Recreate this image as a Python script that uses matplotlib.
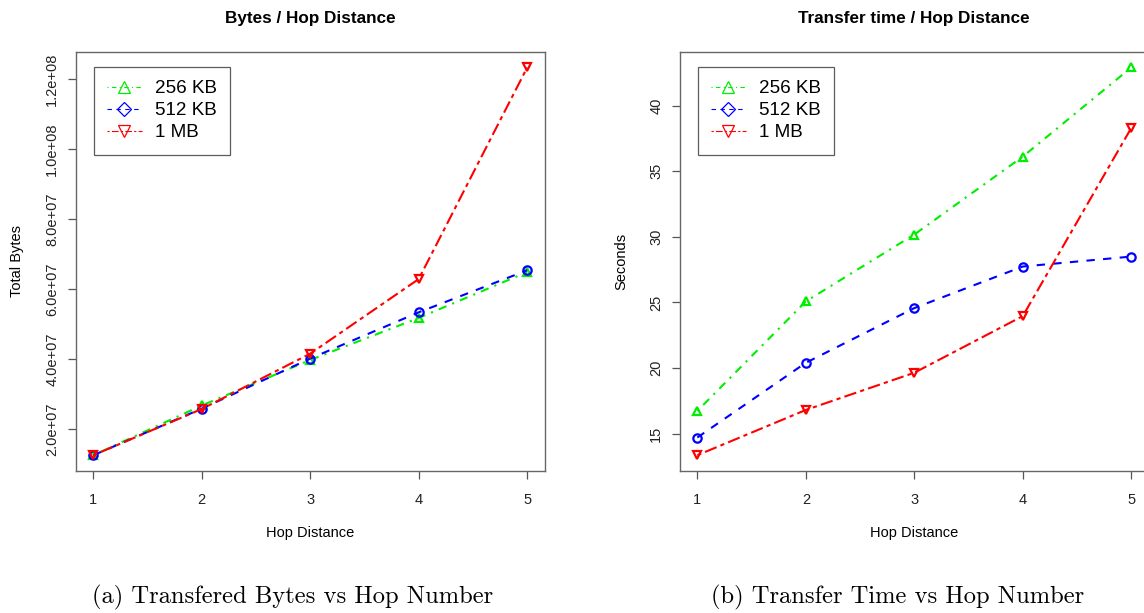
import matplotlib
matplotlib.use('Agg')
import matplotlib.pyplot as plt
from matplotlib.lines import Line2D
from matplotlib.ticker import FuncFormatter

hops = [1, 2, 3, 4, 5]
series = ['256 KB', '512 KB', '1 MB']

# total bytes per hop distance
bytes_256 = [1.26e7, 2.68e7, 3.98e7, 5.18e7, 6.49e7]
bytes_512 = [1.26e7, 2.59e7, 4.02e7, 5.34e7, 6.54e7]
bytes_1mb = [1.26e7, 2.58e7, 4.16e7, 6.29e7, 1.233e8]

# transfer time (seconds) per hop distance
secs_256 = [16.73, 25.08, 30.18, 36.12, 42.92]
secs_512 = [14.70, 20.40, 24.57, 27.74, 28.50]
secs_1mb = [13.35, 16.80, 19.64, 23.96, 38.30]

bytes_ticks = [2e7, 4e7, 6e7, 8e7, 1e8, 1.2e8]
secs_ticks = [15, 20, 25, 30, 35, 40]

colors = ['#00ee00', '#0000ff', '#ff0000']
styles = [(0, (1, 3, 4, 3)), (0, (4, 4)), (0, (2, 2, 6, 2))]
plot_markers = ['^', 'o', 'v']
legend_markers = ['^', 'D', 'v']

plt.rcParams['font.family'] = ['Liberation Sans', 'DejaVu Sans']

fig = plt.figure(figsize=(11.44, 6.13), dpi=100)
ax1 = fig.add_axes([0.0664, 0.2321, 0.4096, 0.6831])
ax2 = fig.add_axes([0.5944, 0.2321, 0.4096, 0.6831])


def r_lim(vals):
    # R style: 4% padding on each side
    lo, hi = min(vals), max(vals)
    pad = (hi - lo) * 0.04
    return lo - pad, hi + pad


def draw(ax, ys, title, ylabel, yticks, fmt):
    for y, c, ls, m in zip(ys, colors, styles, plot_markers):
        ax.plot(hops, y, color=c, linestyle=ls, lw=1.5, marker=m, ms=6,
                mfc='none', mec=c, mew=1.6)
    allv = [v for y in ys for v in y]
    ax.set_ylim(*r_lim(allv))
    ax.set_xlim(*r_lim(hops))
    ax.set_xticks(hops)
    ax.set_yticks(yticks)
    ax.yaxis.set_major_formatter(fmt)
    for lab in ax.get_yticklabels():
        lab.set_rotation(90)
        lab.set_va('center')
    ax.tick_params(direction='out', length=6, width=0.9, colors='#555555',
                   labelcolor='#222222', labelsize=10.5)
    ax.tick_params(axis='x', pad=10)
    ax.tick_params(axis='y', pad=6)
    for sp in ax.spines.values():
        sp.set_color('#666666')
        sp.set_linewidth(1.0)
    ax.set_title(title, fontsize=12.3, fontweight='bold', pad=21)
    ax.set_xlabel('Hop Distance', fontsize=10.5, va='center')
    ax.set_ylabel(ylabel, fontsize=10.5, va='center')
    ax.xaxis.set_label_coords(0.5, -0.149)
    ax.yaxis.set_label_coords(-0.125, 0.5)
    handles = [Line2D([], [], color=c, linestyle=ls, lw=0.8, marker=m,
                      ms=(7 if m == 'D' else 9), mfc='none', mec=c, mew=0.9)
               for c, ls, m in zip(colors, styles, legend_markers)]
    leg = ax.legend(handles, series, loc='upper left',
                    bbox_to_anchor=(17.7 / 468.6, 1 - 14.7 / 418.7),
                    borderaxespad=0, fontsize=13.6, frameon=True,
                    fancybox=False, edgecolor='#333333', handlelength=1.85,
                    handletextpad=0.7, labelspacing=0.26, borderpad=0.7)
    leg.get_frame().set_linewidth(0.9)


draw(ax1, [bytes_256, bytes_512, bytes_1mb], 'Bytes / Hop Distance', 'Total Bytes',
     bytes_ticks, FuncFormatter(lambda v, p: f'{v:.1e}'))
draw(ax2, [secs_256, secs_512, secs_1mb], 'Transfer time / Hop Distance', 'Seconds',
     secs_ticks, FuncFormatter(lambda v, p: f'{v:g}'))

fig.text(0.256, 0.0245, '(a) Transfered Bytes vs Hop Number', family='cmr10',
         fontsize=17.7, ha='center', va='center')
fig.text(0.7845, 0.0245, '(b) Transfer Time vs Hop Number', family='cmr10',
         fontsize=17.7, ha='center', va='center')

fig.savefig('out.png', dpi=100)
